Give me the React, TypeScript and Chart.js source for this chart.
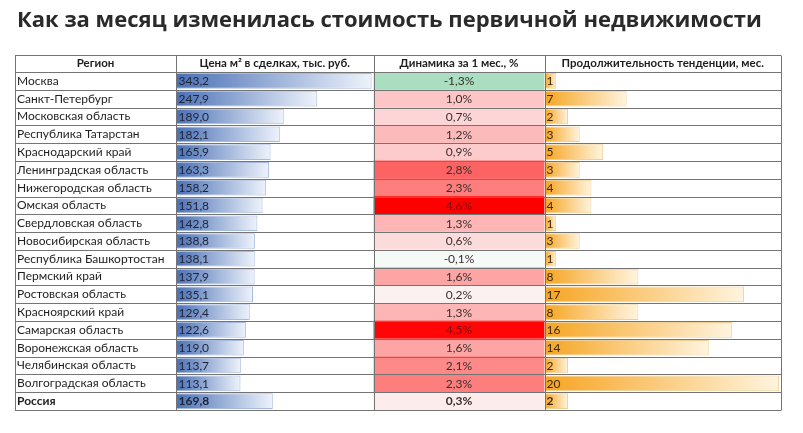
import React, { useEffect, useRef } from 'react';
import { Chart, registerables } from 'chart.js';

Chart.register(...registerables);

const TITLE = 'Как за месяц изменилась стоимость первичной недвижимости';
const HEADER_REGION = 'Регион';
const HEADER_PRICE = 'Цена м² в сделках, тыс. руб.';
const HEADER_DYN = 'Динамика за 1 мес., %';
const HEADER_DUR = 'Продолжительность тенденции, мес.';

const regions = [
  'Москва',
  'Санкт-Петербург',
  'Московская область',
  'Республика Татарстан',
  'Краснодарский край',
  'Ленинградская область',
  'Нижегородская область',
  'Омская область',
  'Свердловская область',
  'Новосибирская область',
  'Республика Башкортостан',
  'Пермский край',
  'Ростовская область',
  'Красноярский край',
  'Самарская область',
  'Воронежская область',
  'Челябинская область',
  'Волгоградская область',
  'Россия',
];
const prices = [343.2, 247.9, 189.0, 182.1, 165.9, 163.3, 158.2, 151.8, 142.8, 138.8, 138.1, 137.9, 135.1, 129.4, 122.6, 119.0, 113.7, 113.1, 169.8];
const dynamics = [-1.3, 1.0, 0.7, 1.2, 0.9, 2.8, 2.3, 4.6, 1.3, 0.6, -0.1, 1.6, 0.2, 1.3, 4.5, 1.6, 2.1, 2.3, 0.3];
const durations = [1, 7, 2, 3, 5, 3, 4, 4, 1, 3, 1, 8, 17, 8, 16, 14, 2, 20, 2];
const TOTAL_INDEX = 18;

const FONT = 'Lato';
const BODY_SIZE = 12;
const HEAD_SIZE = 11.5;
const LINE = '#747474';

const fmt = (v: number) => v.toFixed(1).replace('.', ',');

function mix(a: number[], b: number[], t: number) {
  const c = a.map((x, i) => Math.round(x + (b[i] - x) * t));
  return `rgb(${c[0]},${c[1]},${c[2]})`;
}
const minDyn = Math.min(...dynamics);
const maxDyn = Math.max(...dynamics);
function heat(v: number) {
  if (v < 0) return mix([252, 252, 252], [170, 222, 192], Math.min(1, v / minDyn));
  return mix([252, 252, 252], [255, 0, 0], Math.min(1, v / maxDyn));
}

function gradient(axis: string, from: string, to: string) {
  return (c: any) => {
    const chart = c.chart;
    const s = chart.scales[axis];
    if (!s || c.type !== 'data' || typeof c.raw !== 'number') return from;
    const x0 = s.getPixelForValue(0);
    const x1 = s.getPixelForValue(c.raw);
    if (!isFinite(x0) || !isFinite(x1) || x1 <= x0) return from;
    const g = chart.ctx.createLinearGradient(x0, 0, x1, 0);
    g.addColorStop(0, from);
    g.addColorStop(1, to);
    return g;
  };
}

const tablePlugin = {
  id: 'tableDecor',
  afterDatasetsDraw(chart: any) {
    const { ctx, chartArea, scales } = chart;
    const y = scales.y;
    const xP = scales.xP;
    const xD = scales.xD;
    const xT = scales.xT;
    const step = y.getPixelForValue(1) - y.getPixelForValue(0);
    const tableLeft = y.left - 2;
    const headTop = xP.top;
    ctx.save();
    // values
    ctx.textBaseline = 'middle';
    regions.forEach((_, i) => {
      const yc = y.getPixelForValue(i) + 0.5;
      const bold = i === TOTAL_INDEX ? 'bold ' : '';
      ctx.font = `${bold}${BODY_SIZE}px ${FONT}`;
      ctx.fillStyle = '#1f2433';
      ctx.textAlign = 'left';
      ctx.fillText(fmt(prices[i]), xP.left + 2.5, yc);
      ctx.textAlign = 'center';
      ctx.fillStyle = dynamics[i] >= 4 ? '#7a0a0a' : '#3a2f2f';
      ctx.fillText(fmt(dynamics[i]) + '%', (xD.left + xD.right) / 2, yc);
      ctx.textAlign = 'left';
      ctx.fillStyle = '#3a2a10';
      ctx.fillText(String(durations[i]), xT.left + 2, yc);
    });
    // region header
    ctx.font = `bold ${HEAD_SIZE}px ${FONT}`;
    ctx.fillStyle = '#1e1e1e';
    ctx.textAlign = 'center';
    ctx.fillText(HEADER_REGION, (tableLeft + y.right) / 2, (headTop + chartArea.top) / 2);
    // grid lines
    ctx.strokeStyle = LINE;
    ctx.lineWidth = 1;
    ctx.beginPath();
    const hy = Math.round(headTop) + 0.5;
    ctx.moveTo(tableLeft, hy);
    ctx.lineTo(xT.right, hy);
    for (let k = 0; k <= regions.length; k++) {
      const yy = Math.round(y.getPixelForValue(k) - step / 2) + 0.5;
      ctx.moveTo(tableLeft, yy);
      ctx.lineTo(xT.right, yy);
    }
    [tableLeft, xP.left, xD.left, xT.left, xT.right].forEach((xv) => {
      const xx = Math.round(xv) + 0.5;
      ctx.moveTo(xx, hy);
      ctx.lineTo(xx, Math.round(chartArea.bottom) + 0.5);
    });
    ctx.stroke();
    ctx.restore();
  },
};

function topAxis(text: string, weight: number, max: number) {
  return {
    type: 'linear',
    position: 'top',
    stack: 'cols',
    stackWeight: weight,
    min: 0,
    max,
    grid: { display: false, drawTicks: false },
    border: { display: false },
    ticks: { display: false },
    title: {
      display: true,
      text,
      color: '#1e1e1e',
      padding: 0,
      font: { family: FONT, size: HEAD_SIZE, weight: 'bold', lineHeight: '17px' },
    },
    afterFit: (s: any) => {
      s.height = 17;
    },
  };
}

export default function App() {
  const ref = useRef<HTMLCanvasElement | null>(null);
  useEffect(() => {
    if (!ref.current) return;
    const chart = new Chart(ref.current, {
      type: 'bar',
      data: {
        labels: regions,
        datasets: [
          {
            label: HEADER_PRICE,
            data: prices,
            xAxisID: 'xP',
            yAxisID: 'y',
            backgroundColor: gradient('xP', '#4a70b6', '#eef3fb'),
            borderColor: '#a6badd',
            borderWidth: 1,
            borderSkipped: false,
            barPercentage: 0.88,
            categoryPercentage: 1,
            grouped: false,
          },
          {
            label: HEADER_DYN,
            data: dynamics.map(() => [0, 1]),
            xAxisID: 'xD',
            yAxisID: 'y',
            backgroundColor: dynamics.map(heat),
            borderWidth: 0,
            barPercentage: 1,
            categoryPercentage: 1,
            grouped: false,
          },
          {
            label: HEADER_DUR,
            data: durations,
            xAxisID: 'xT',
            yAxisID: 'y',
            backgroundColor: gradient('xT', '#f6a522', '#fff4df'),
            borderColor: '#f0d092',
            borderWidth: 1,
            borderSkipped: false,
            barPercentage: 0.88,
            categoryPercentage: 1,
            grouped: false,
          },
        ] as any,
      },
      options: {
        indexAxis: 'y',
        responsive: false,
        animation: false,
        devicePixelRatio: 1,
        layout: { padding: { left: 17, right: 22, top: 0, bottom: 23 } },
        plugins: {
          legend: { display: false },
          tooltip: { enabled: false },
          title: {
            display: true,
            text: TITLE,
            align: 'start',
            color: '#2a2a2a',
            font: { family: 'Open Sans', size: 22, weight: 'bold', lineHeight: 1.2 },
            padding: { top: 8, bottom: 20.6 },
          },
        },
        scales: {
          y: {
            type: 'category',
            position: 'left',
            offset: true,
            grid: { display: false },
            border: { display: false },
            ticks: {
              autoSkip: false,
              crossAlign: 'far',
              padding: 0,
              color: '#1e1e1e',
              font: (c: any) => ({ family: FONT, size: BODY_SIZE, weight: c.index === TOTAL_INDEX ? 'bold' : 'normal' }),
            },
            afterFit: (s: any) => {
              s.width = 159;
            },
          },
          // top-positioned stacked axes are laid out in reverse declaration order
          xT: topAxis(HEADER_DUR, 236.5, 20.16),
          xD: topAxis(HEADER_DYN, 171, 1),
          xP: topAxis(HEADER_PRICE, 197.5, 346.5),
        } as any,
      },
      plugins: [tablePlugin],
    } as any);
    return () => chart.destroy();
  }, []);
  return (
    <div style={{ position: 'absolute', left: 0, top: 0, width: 803, height: 433, background: '#fff' }}>
      <canvas ref={ref} width={803} height={433} style={{ display: 'block' }} />
    </div>
  );
}
